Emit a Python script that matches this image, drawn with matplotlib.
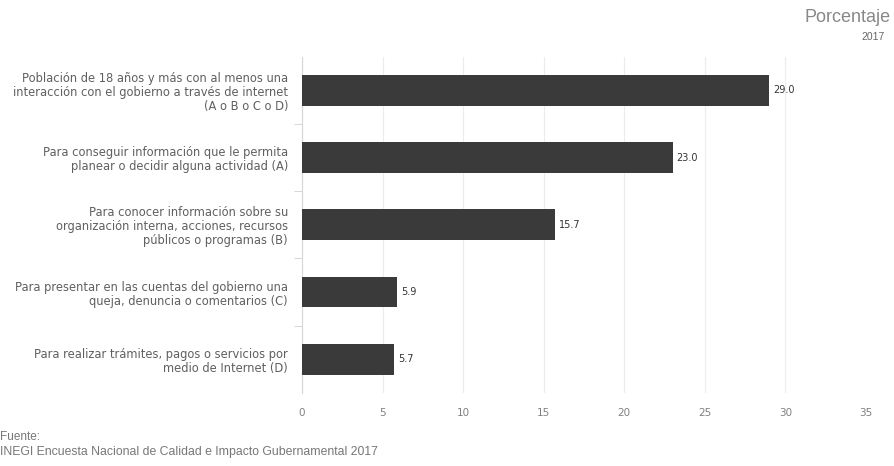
import matplotlib.pyplot as plt

# datos
categorias = [
    "Población de 18 años y más con al menos una\ninteracción con el gobierno a través de internet\n(A o B o C o D)",
    "Para conseguir información que le permita\nplanear o decidir alguna actividad (A)",
    "Para conocer información sobre su\norganización interna, acciones, recursos\npúblicos o programas (B)",
    "Para presentar en las cuentas del gobierno una\nqueja, denuncia o comentarios (C)",
    "Para realizar trámites, pagos o servicios por\nmedio de Internet (D)",
]
valores = [29.0, 23.0, 15.7, 5.9, 5.7]
ticks_x = [0, 5, 10, 15, 20, 25, 30, 35]

plt.rcParams['font.family'] = ['DejaVu Sans']

fig = plt.figure(figsize=(8.95, 4.66), dpi=100)
ax = fig.add_axes([0.3374, 0.157, 0.9676 - 0.3374, 0.878 - 0.157])

pos = list(range(len(valores)))
ax.barh(pos, valores, height=0.46, color="#3a3a3a", zorder=3)
for p, v in zip(pos, valores):
    ax.text(v + 0.25, p, f"{v:.1f}", va="center", ha="left", fontsize=7, color="#333333")

ax.set_ylim(len(valores) - 0.5, -0.5)
ax.set_xlim(0, 35)
ax.set_xticks(ticks_x)
ax.set_xticklabels([str(t) for t in ticks_x])
ax.tick_params(axis="x", length=0, labelsize=7.5, labelcolor="#808080", pad=11)
ax.grid(axis="x", color="#ececec", linewidth=0.8, zorder=0)

# etiquetas de categorias
ax.set_yticks(pos)
ax.set_yticklabels(categorias, fontsize=8.3, color="#606060", linespacing=1.1)
ax.tick_params(axis="y", length=0, pad=10)
ax.set_yticks([p + 0.5 for p in pos[:-1]], minor=True)
ax.tick_params(axis="y", which="minor", length=6, color="#d0d0d0")

for s in ["top", "right", "bottom"]:
    ax.spines[s].set_visible(False)
ax.spines["left"].set_color("#d8d8d8")

fig.text(0.995, 0.962, "Porcentaje", ha="right", va="center", fontsize=13,
         color="#888888", family="Liberation Sans")
fig.text(0.988, 0.92, "2017", ha="right", va="center", fontsize=7.5,
         color="#666666", family="Liberation Sans")
fig.text(0.0, 0.062, "Fuente:", ha="left", va="center", fontsize=8.5,
         color="#777777", family="Liberation Sans")
fig.text(0.0, 0.031, "INEGI Encuesta Nacional de Calidad e Impacto Gubernamental 2017",
         ha="left", va="center", fontsize=8.8, color="#777777", family="Liberation Sans")

fig.savefig("out.png", dpi=100)
